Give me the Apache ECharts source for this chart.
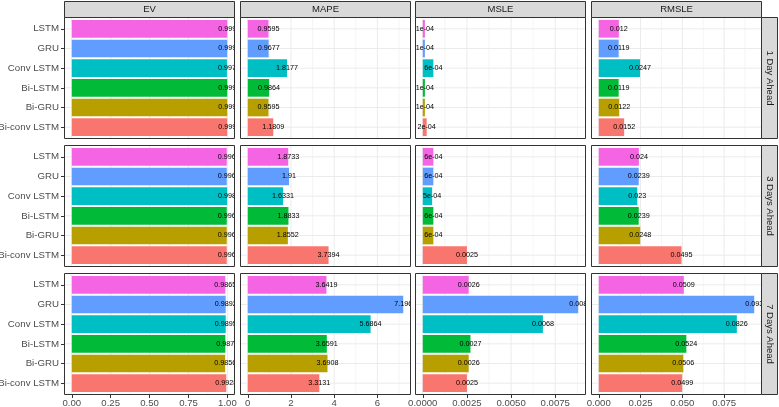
<!DOCTYPE html>
<html><head><meta charset="utf-8">
<script src="https://cdn.jsdelivr.net/npm/echarts@6/dist/echarts.min.js"></script>
<style>html,body{margin:0;padding:0;background:#fff}#c{width:779px;height:407px}</style>
</head><body><div id="c"></div>
<script>
// ---------- data ----------
const models = ['LSTM', 'GRU', 'Conv LSTM', 'Bi-LSTM', 'Bi-GRU', 'Bi-conv LSTM'];
const metrics = ['EV', 'MAPE', 'MSLE', 'RMSLE'];
const horizons = ['1 Day Ahead', '3 Days Ahead', '7 Days Ahead'];

const ev1 = [0.999, 0.999, 0.997, 0.999, 0.999, 0.999];
const ev3 = [0.996, 0.996, 0.998, 0.996, 0.996, 0.996];
const ev7 = [0.9865, 0.9892, 0.9895, 0.987, 0.9856, 0.9928];
const ev1Labels = ['0.999', '0.999', '0.997', '0.999', '0.999', '0.999'];
const ev3Labels = ['0.996', '0.996', '0.998', '0.996', '0.996', '0.996'];
const ev7Labels = ['0.9865', '0.9892', '0.9895', '0.987', '0.9856', '0.9928'];

const mape1 = [0.9595, 0.9677, 1.8177, 0.9864, 0.9595, 1.1809];
const mape3 = [1.8733, 1.91, 1.6331, 1.8833, 1.8552, 3.7394];
const mape7 = [3.6419, 7.196, 5.6864, 3.6591, 3.6908, 3.3131];
const mape1Labels = ['0.9595', '0.9677', '1.8177', '0.9864', '0.9595', '1.1809'];
const mape3Labels = ['1.8733', '1.91', '1.6331', '1.8833', '1.8552', '3.7394'];
const mape7Labels = ['3.6419', '7.196', '5.6864', '3.6591', '3.6908', '3.3131'];

const msle1 = [0.00012, 0.00012, 0.0006, 0.00012, 0.00012, 0.00022];
const msle3 = [0.0006, 0.0006, 0.00053, 0.0006, 0.0006, 0.0025];
const msle7 = [0.0026, 0.0088, 0.0068, 0.0027, 0.0026, 0.0025];
const msle1Labels = ['1e-04', '1e-04', '6e-04', '1e-04', '1e-04', '2e-04'];
const msle3Labels = ['6e-04', '6e-04', '5e-04', '6e-04', '6e-04', '0.0025'];
const msle7Labels = ['0.0026', '0.008', '0.0068', '0.0027', '0.0026', '0.0025'];

const rmsle1 = [0.012, 0.0119, 0.0247, 0.0119, 0.0122, 0.0152];
const rmsle3 = [0.024, 0.0239, 0.023, 0.0239, 0.0248, 0.0495];
const rmsle7 = [0.0509, 0.093, 0.0826, 0.0524, 0.0506, 0.0499];
const rmsle1Labels = ['0.012', '0.0119', '0.0247', '0.0119', '0.0122', '0.0152'];
const rmsle3Labels = ['0.024', '0.0239', '0.023', '0.0239', '0.0248', '0.0495'];
const rmsle7Labels = ['0.0509', '0.093', '0.0826', '0.0524', '0.0506', '0.0499'];

const evTicks = [0, 0.25, 0.5, 0.75, 1.0];
const evTickLabels = ['0.00', '0.25', '0.50', '0.75', '1.00'];
const mapeTicks = [0, 2, 4, 6];
const mapeTickLabels = ['0', '2', '4', '6'];
const msleTicks = [0, 0.0025, 0.005, 0.0075];
const msleTickLabels = ['0.0000', '0.0025', '0.0050', '0.0075'];
const rmsleTicks = [0, 0.025, 0.05, 0.075];
const rmsleTickLabels = ['0.000', '0.025', '0.050', '0.075'];

// ---------- styles / layout ----------
const modelColors = ['#F564E3', '#619CFF', '#00BFC4', '#00BA38', '#B79F00', '#F8766D'];
const FONT = '"Liberation Sans", Arial, Helvetica, sans-serif';
const colLeft = [64, 240, 415, 591];
const colW = 171;
const rowTop = [17, 145, 273];
const rowH = 122;
const stripSize = 16;

const values = [[ev1, ev3, ev7], [mape1, mape3, mape7], [msle1, msle3, msle7], [rmsle1, rmsle3, rmsle7]];
const labels = [[ev1Labels, ev3Labels, ev7Labels], [mape1Labels, mape3Labels, mape7Labels],
                [msle1Labels, msle3Labels, msle7Labels], [rmsle1Labels, rmsle3Labels, rmsle7Labels]];
const ticks = [evTicks, mapeTicks, msleTicks, rmsleTicks];
const tickLabels = [evTickLabels, mapeTickLabels, msleTickLabels, rmsleTickLabels];
const catIdx = models.map((_, i) => i);

const grids = [], xAxes = [], yAxes = [], series = [], graphics = [];

for (let r = 0; r < 3; r++) {
  for (let c = 0; c < 4; c++) {
    const g = grids.length;
    const M = Math.max(...values[c][0], ...values[c][1], ...values[c][2]);
    const tv = ticks[c], tl = tickLabels[c];
    const step = tv[1] - tv[0];
    const minor = [];
    for (let k = 0; k < tv.length + 1; k++) {
      const m = tv[0] + step * (k + 0.5);
      if (m < 1.05 * M) minor.push(m);
    }
    grids.push({left: colLeft[c], top: rowTop[r], width: colW, height: rowH, outerBoundsMode: 'none', containLabel: false});
    xAxes.push({
      gridIndex: g, type: 'value', min: -0.05 * M, max: 1.05 * M,
      axisLine: {show: false, onZero: false}, splitLine: {show: false},
      axisTick: {show: r === 2, length: 3, customValues: tv, lineStyle: {color: '#333333', width: 1}},
      axisLabel: {show: r === 2, customValues: tv, fontSize: 9.6, color: '#4D4D4D', margin: 3, fontFamily: FONT,
        formatter: v => { const i = tv.findIndex(t => Math.abs(t - v) < 1e-12); return i >= 0 ? tl[i] : ''; }}
    });
    yAxes.push({
      gridIndex: g, type: 'value', min: -0.6, max: 5.6, inverse: true,
      axisLine: {show: false, onZero: false}, splitLine: {show: false},
      axisTick: {show: c === 0, length: 3, customValues: catIdx, lineStyle: {color: '#333333', width: 1}},
      axisLabel: {show: c === 0, customValues: catIdx, fontSize: 9.7, color: '#4D4D4D', margin: 5, fontFamily: FONT,
        formatter: v => models[Math.round(v)]}
    });
    // background grid lines
    series.push({
      type: 'custom', xAxisIndex: g, yAxisIndex: g, z: 1, silent: true, clip: true,
      data: [[0, 0]],
      renderItem: (params, api) => {
        const cs = params.coordSys;
        const ch = [];
        minor.forEach(v => {
          const x = api.coord([v, 0])[0];
          ch.push({type: 'line', shape: {x1: x, y1: cs.y, x2: x, y2: cs.y + cs.height}, style: {stroke: '#EBEBEB', lineWidth: 0.5}});
        });
        tv.forEach(v => {
          const x = api.coord([v, 0])[0];
          ch.push({type: 'line', shape: {x1: x, y1: cs.y, x2: x, y2: cs.y + cs.height}, style: {stroke: '#EBEBEB', lineWidth: 1}});
        });
        catIdx.forEach(i => {
          const y = api.coord([0, i])[1];
          ch.push({type: 'line', shape: {x1: cs.x, y1: y, x2: cs.x + cs.width, y2: y}, style: {stroke: '#EBEBEB', lineWidth: 1}});
        });
        return {type: 'group', children: ch};
      }
    });
    // bars + value labels
    const labs = labels[c][r];
    series.push({
      type: 'custom', xAxisIndex: g, yAxisIndex: g, z: 2, silent: true, clip: true,
      data: values[c][r].map((v, i) => [v, i]),
      renderItem: (params, api) => {
        const v = api.value(0), i = api.value(1);
        const p0 = api.coord([0, i]), p1 = api.coord([v, i]);
        const bh = api.size([0, 1])[1] * 0.9;
        return {type: 'group', children: [
          {type: 'rect', shape: {x: p0[0], y: p0[1] - bh / 2, width: p1[0] - p0[0], height: bh},
           style: {fill: modelColors[i]}},
          {type: 'text', x: p1[0], y: p1[1], z2: 10,
           style: {text: labs[params.dataIndex], fill: '#000000', fontSize: 7.2, fontFamily: FONT,
                   align: 'center', verticalAlign: 'middle'}}
        ]};
      }
    });
    // panel border
    graphics.push({type: 'rect', z: 100, silent: true,
      shape: {x: colLeft[c] + 0.5, y: rowTop[r] + 0.5, width: colW - 1, height: rowH - 1},
      style: {fill: null, stroke: '#333333', lineWidth: 1}});
  }
}
// top strips
for (let c = 0; c < 4; c++) {
  graphics.push({type: 'rect', z: 100, silent: true,
    shape: {x: colLeft[c] + 0.5, y: rowTop[0] - stripSize + 0.5, width: colW - 1, height: stripSize},
    style: {fill: '#D9D9D9', stroke: '#333333', lineWidth: 1}});
  graphics.push({type: 'text', z: 101, silent: true, x: colLeft[c] + colW / 2, y: rowTop[0] - stripSize / 2 + 0.5,
    style: {text: metrics[c], fill: '#1A1A1A', fontSize: 9.5, fontFamily: FONT, align: 'center', verticalAlign: 'middle'}});
}
// right strips
const sx = colLeft[3] + colW;
for (let r = 0; r < 3; r++) {
  graphics.push({type: 'rect', z: 100, silent: true,
    shape: {x: sx - 0.5, y: rowTop[r] + 0.5, width: stripSize, height: rowH - 1},
    style: {fill: '#D9D9D9', stroke: '#333333', lineWidth: 1}});
  graphics.push({type: 'text', z: 101, silent: true, x: sx + stripSize / 2, y: rowTop[r] + rowH / 2,
    rotation: -Math.PI / 2,
    style: {text: horizons[r], fill: '#1A1A1A', fontSize: 9.5, fontFamily: FONT, align: 'center', verticalAlign: 'middle'}});
}

const chart = echarts.init(document.getElementById('c'), null, {renderer: 'canvas'});
chart.setOption({
  animation: false,
  backgroundColor: '#ffffff',
  textStyle: {fontFamily: FONT},
  grid: grids, xAxis: xAxes, yAxis: yAxes, series: series,
  graphic: {elements: graphics}
});
</script>
</body></html>
